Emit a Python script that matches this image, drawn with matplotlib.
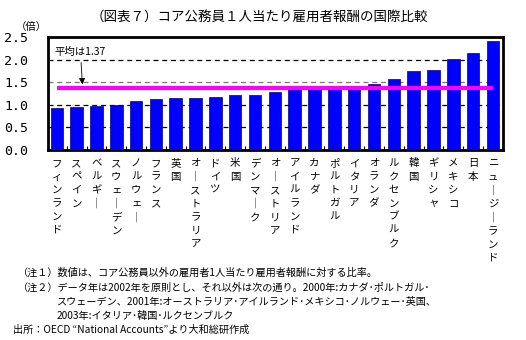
import matplotlib.pyplot as plt
import numpy as np

plt.rcParams['font.family'] = ['Noto Sans CJK JP', 'DejaVu Sans']

countries = ['フィンランド', 'スペイン', 'ベルギー', 'スウェーデン', 'ノルウェー', 'フランス',
             '英国', 'オーストラリア', 'ドイツ', '米国', 'デンマーク', 'オーストリア',
             'アイルランド', 'カナダ', 'ポルトガル', 'イタリア', 'オランダ', 'ルクセンブルク',
             '韓国', 'ギリシャ', 'メキシコ', '日本', 'ニュージーランド']
ratios = [0.93, 0.955, 0.98, 0.99, 1.08, 1.13, 1.16, 1.16, 1.18, 1.22, 1.22, 1.28,
          1.34, 1.37, 1.37, 1.38, 1.45, 1.57, 1.75, 1.77, 2.01, 2.14, 2.42]
average = 1.37
yticks = [0.0, 0.5, 1.0, 1.5, 2.0, 2.5]

notes = [
    '（注１）数値は、コア公務員以外の雇用者1人当たり雇用者報酬に対する比率。',
    '（注２）データ年は2002年を原則とし、それ以外は次の通り。2000年:カナダ･ポルトガル･',
    'スウェーデン、2001年:オーストラリア･アイルランド･メキシコ･ノルウェー･英国、',
    '2003年:イタリア･韓国･ルクセンブルク',
    '出所：OECD \u201cNational Accounts\u201dより大和総研作成',
]


def vertical(s):
    # stack characters top to bottom; long vowel mark turned upright
    return '\n'.join('│' if c == 'ー' else c for c in s)


fig = plt.figure(figsize=(5.26, 3.4), dpi=100)
ax = fig.add_axes([0.091, 0.559, 0.865, 0.332])

x = np.arange(len(countries))
ax.bar(x, ratios, width=0.63, color='#0000ff', edgecolor='#000080', linewidth=0.5, zorder=3)
for v in yticks[1:-1]:
    ax.axhline(v, color='black' if v != 1.5 else '#777777', lw=0.9, ls=(0, (4, 3)), zorder=1)
ax.plot([x[0], x[-1]], [average, average], color='#ff00ff', lw=3, zorder=4, solid_capstyle='butt')

ax.annotate('平均は1.37', xy=(1.3, average + 0.02), xytext=(-0.1, 2.17),
            fontsize=7.5, ha='left', va='center',
            arrowprops=dict(arrowstyle='-|>', color='black', lw=0.6, mutation_scale=9))

ax.set_xlim(-0.45, 22.5)
ax.set_ylim(0, 2.5)
ax.set_yticks(yticks)
ax.set_yticklabels([f'{v:.1f}' for v in yticks], family='DejaVu Sans Mono', fontsize=9.5)
ax.tick_params(axis='y', length=0, pad=14)
ax.set_xticks(x)
ax.set_xticklabels([vertical(c) for c in countries], fontsize=7.5, va='top', linespacing=1.42)
ax.tick_params(axis='x', length=0, pad=6)
ax.set_xticks(x[:-1] + 0.5, minor=True)
ax.tick_params(axis='x', which='minor', direction='in', length=3, width=0.8)
for s in ax.spines.values():
    s.set_linewidth(2)

fig.text(0.494, 0.95, '（図表７）コア公務員１人当たり雇用者報酬の国際比較', ha='center', va='center', fontsize=9.7)
fig.text(0.03, 0.92, '（倍）', ha='left', va='center', fontsize=7.5)

ys = [0.198, 0.155, 0.112, 0.072, 0.030]
xs = [0.035, 0.035, 0.108, 0.108, 0.025]
for t, xx, yy in zip(notes, xs, ys):
    fig.text(xx, yy, t, ha='left', va='center', fontsize=7.3)

fig.savefig('out.png', dpi=100)
